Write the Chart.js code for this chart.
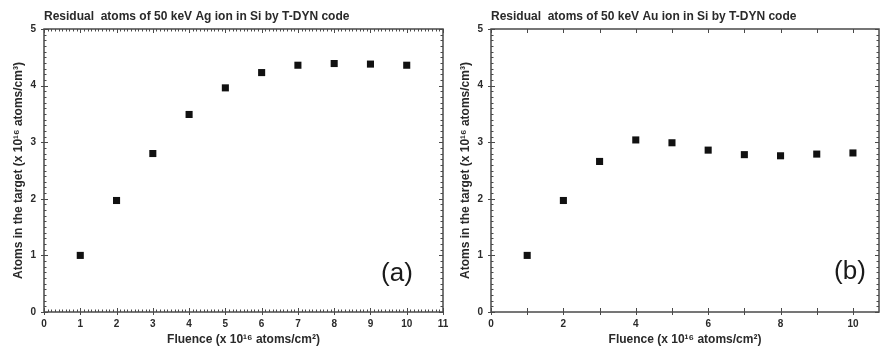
<!DOCTYPE html>
<html>
<head>
<meta charset="utf-8">
<script src="https://cdn.jsdelivr.net/npm/chart.js@4/dist/chart.umd.min.js"></script>
<style>
  body { margin: 0; background: #fff; overflow: hidden; }
  .panel { position: absolute; top: 0; }
</style>
</head>
<body>
<div class="panel" style="left:0px"><canvas id="AgChart" width="455" height="349"></canvas></div>
<div class="panel" style="left:447px"><canvas id="AuChart" width="440" height="349"></canvas></div>
<script>
// fluence (x 10^16 atoms/cm^2)
var fluence = [1, 2, 3, 4, 5, 6, 7, 8, 9, 10];
// residual atoms (x 10^16 atoms/cm^3)
var agAtoms = [1.00, 1.97, 2.80, 3.49, 3.96, 4.23, 4.36, 4.39, 4.38, 4.36];
var auAtoms = [1.00, 1.97, 2.66, 3.04, 2.99, 2.86, 2.78, 2.76, 2.79, 2.81];

var xTicksAg = [0, 1, 2, 3, 4, 5, 6, 7, 8, 9, 10, 11];
var xTicksAu = [0, 2, 4, 6, 8, 10];
var yTicks = [0, 1, 2, 3, 4, 5];

var titleAg = "Residual  atoms of 50 keV Ag ion in Si by T-DYN code";
var titleAu = "Residual  atoms of 50 keV Au ion in Si by T-DYN code";
var xTitle = "Fluence (x 10\u00b9\u2076 atoms/cm\u00b2)";
var yTitle = "Atoms in the target (x 10\u00b9\u2076 atoms/cm\u00b3)";

var inkColor = '#2a2a2a';
var axisColor = '#4a4a4a';
var fontFamily = '"Liberation Sans", "DejaVu Sans", Arial, sans-serif';

// Origin style frame with major and minor ticks on all four sides
var frameTicks = {
    id: 'frameTicks',
    beforeDatasetsDraw: function (chart, args, opts) {
        var ctx = chart.ctx;
        var a = chart.chartArea;
        var x = chart.scales.x, y = chart.scales.y;
        ctx.save();
        ctx.strokeStyle = axisColor;
        ctx.lineWidth = 1;
        ctx.beginPath();
        var k, p;
        if (opts.xMinor) {
            for (k = 0; k * opts.xMinor <= x.max + 1e-6; k++) {
                p = Math.round(x.getPixelForValue(k * opts.xMinor)) + 0.5;
                ctx.moveTo(p, a.bottom); ctx.lineTo(p, a.bottom - 2.5);
                ctx.moveTo(p, a.top); ctx.lineTo(p, a.top + 2.5);
            }
        }
        if (opts.yMinor) {
            for (k = 0; k * opts.yMinor <= y.max + 1e-6; k++) {
                p = Math.round(y.getPixelForValue(k * opts.yMinor)) + 0.5;
                ctx.moveTo(a.left, p); ctx.lineTo(a.left + 2.5, p);
                ctx.moveTo(a.right, p); ctx.lineTo(a.right - 2.5, p);
            }
        }
        for (k = Math.ceil(x.min); k <= x.max + 1e-6; k++) {
            p = Math.round(x.getPixelForValue(k)) + 0.5;
            ctx.moveTo(p, a.bottom + 3); ctx.lineTo(p, a.bottom - 4);
            ctx.moveTo(p, a.top); ctx.lineTo(p, a.top + 4);
        }
        for (k = Math.ceil(y.min); k <= y.max + 1e-6; k++) {
            p = Math.round(y.getPixelForValue(k)) + 0.5;
            ctx.moveTo(a.left - 3, p); ctx.lineTo(a.left + 4, p);
            ctx.moveTo(a.right, p); ctx.lineTo(a.right - 4, p);
        }
        ctx.stroke();
        ctx.lineWidth = 1.5;
        ctx.strokeRect(a.left, a.top, a.right - a.left, a.bottom - a.top);
        ctx.restore();
    }
};

// panel letter, placed relative to the plot area
var panelLabel = {
    id: 'panelLabel',
    afterDraw: function (chart, args, opts) {
        var ctx = chart.ctx;
        var a = chart.chartArea;
        ctx.save();
        ctx.fillStyle = '#1a1a1a';
        ctx.font = '26px "Liberation Sans", Arial, sans-serif';
        ctx.textAlign = 'center';
        ctx.textBaseline = 'middle';
        ctx.fillText(opts.text, a.right - opts.dx, a.bottom - opts.dy);
        ctx.restore();
    }
};

function makePoints(xs, ys) {
    return xs.map(function (v, i) {
        return { x: v, y: ys[i] };
    });
}

function setupChart(canvasId, title, values, xMax, xTicks, xMinor, letter, dx, dy, padRight) {
    var context = document.getElementById(canvasId).getContext("2d");
    return new Chart(context, {
        type: "scatter",
        data: {
            datasets: [{
                data: makePoints(fluence, values),
                pointStyle: 'rect',
                pointRadius: 5,
                pointBackgroundColor: '#111',
                pointBorderWidth: 0,
                showLine: false
            }]
        },
        options: {
            responsive: false,
            animation: false,
            devicePixelRatio: 1,
            layout: { padding: { left: 0, right: padRight, top: 0, bottom: 0 } },
            plugins: {
                legend: { display: false },
                tooltip: { enabled: false },
                title: {
                    display: true,
                    text: title,
                    fullSize: false,
                    align: 'start',
                    color: inkColor,
                    font: { family: fontFamily, size: 12, weight: 'bold' },
                    padding: { top: 9, bottom: 5.6 }
                },
                frameTicks: { xMinor: xMinor, yMinor: 0.1 },
                panelLabel: { text: letter, dx: dx, dy: dy }
            },
            scales: {
                x: {
                    type: 'linear',
                    min: 0,
                    max: xMax,
                    grid: { display: false, drawTicks: false },
                    border: { display: false },
                    afterBuildTicks: function (scale) {
                        scale.ticks = xTicks.map(function (v) { return { value: v }; });
                    },
                    afterFit: function (scale) { scale.height = 37; },
                    ticks: {
                        padding: 6,
                        color: inkColor,
                        font: { family: fontFamily, size: 10, weight: 'bold' }
                    },
                    title: {
                        display: true,
                        text: xTitle,
                        color: inkColor,
                        font: { family: fontFamily, size: 12, weight: 'bold' },
                        padding: { top: 0, bottom: 2 }
                    }
                },
                y: {
                    type: 'linear',
                    min: 0,
                    max: 5,
                    grid: { display: false, drawTicks: false },
                    border: { display: false },
                    afterBuildTicks: function (scale) {
                        scale.ticks = yTicks.map(function (v) { return { value: v }; });
                    },
                    afterFit: function (scale) { scale.width = 44; },
                    ticks: {
                        padding: 8,
                        color: inkColor,
                        font: { family: fontFamily, size: 10, weight: 'bold' }
                    },
                    title: {
                        display: true,
                        text: yTitle,
                        color: inkColor,
                        font: { family: fontFamily, size: 12, weight: 'bold' },
                        padding: { top: 11, bottom: 0 }
                    }
                }
            }
        },
        plugins: [frameTicks, panelLabel]
    });
}

setupChart("AgChart", titleAg, agAtoms, 11, xTicksAg, 0.1, "(a)", 46, 38, 12);
setupChart("AuChart", titleAu, auAtoms, 10.72, xTicksAu, 0, "(b)", 29, 40, 8);
</script>
</body>
</html>
